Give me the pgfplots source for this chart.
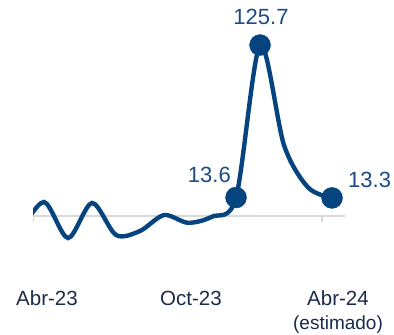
\documentclass[border=0pt]{standalone}
\usepackage{pgfplots}
\pgfplotsset{compat=1.18}
\usepackage{fontspec}
\setmainfont{Liberation Sans}
\definecolor{linec}{HTML}{05447F}
\definecolor{labc}{HTML}{1C4C86}
\definecolor{tickc}{HTML}{1B2A4A}
\definecolor{basec}{HTML}{D9D9D9}
\begin{document}
\begin{tikzpicture}[x=1bp,y=1bp]
\useasboundingbox (0,0) rectangle (394,335);
\begin{axis}[
  at={(33bp,91.8bp)}, anchor=south west,
  scale only axis, width=312bp, height=210.8bp,
  xmin=-0.46, xmax=12.54, ymin=-20, ymax=135,
  hide axis, clip=true,
]
% baseline and ticks
\addplot[basec, line width=2bp] coordinates {(-0.46,0) (12.54,0)};
\addplot[basec, line width=1.5bp] coordinates {(-0.44,0) (-0.44,-4.4)};
\addplot[basec, line width=1.5bp] coordinates {(5.54,0) (5.54,-4.4)};
\addplot[basec, line width=1.5bp] coordinates {(11.58,0) (11.58,-4.4)};
% series (monthly, Abr-23 = 0)
\addplot[linec, line width=4.4bp, smooth, tension=0.5, line cap=round] coordinates {
(-1,-12) (0,10.3) (1,-16.2) (2,9.6) (3,-14) (4,-11) (5,0.7) (6,-5) (7,-0.5)
(8,13.6) (9,125.7) (10,52) (11,21) (12,13.3)};
\addplot[only marks, mark=*, mark size=10.5bp, color=linec] coordinates {(8,13.6) (9,125.7) (12,13.3)};
\end{axis}
\fontsize{22bp}{26bp}\selectfont
\node[anchor=base, inner sep=0, text=labc] at (261,311) {125.7};
\node[anchor=base east, inner sep=0, text=labc] at (231,153) {13.6};
\node[anchor=base west, inner sep=0, text=labc] at (348,148) {13.3};
\fontsize{20.5bp}{24bp}\selectfont
\node[anchor=base, inner sep=0, text=tickc] at (47,30) {Abr-23};
\node[anchor=base, inner sep=0, text=tickc] at (191,30) {Oct-23};
\node[anchor=base, inner sep=0, text=tickc] at (338,30) {Abr-24};
\fontsize{19bp}{22bp}\selectfont
\node[anchor=base, inner sep=0, text=tickc] at (338,6) {(estimado)};
\end{tikzpicture}
\end{document}
